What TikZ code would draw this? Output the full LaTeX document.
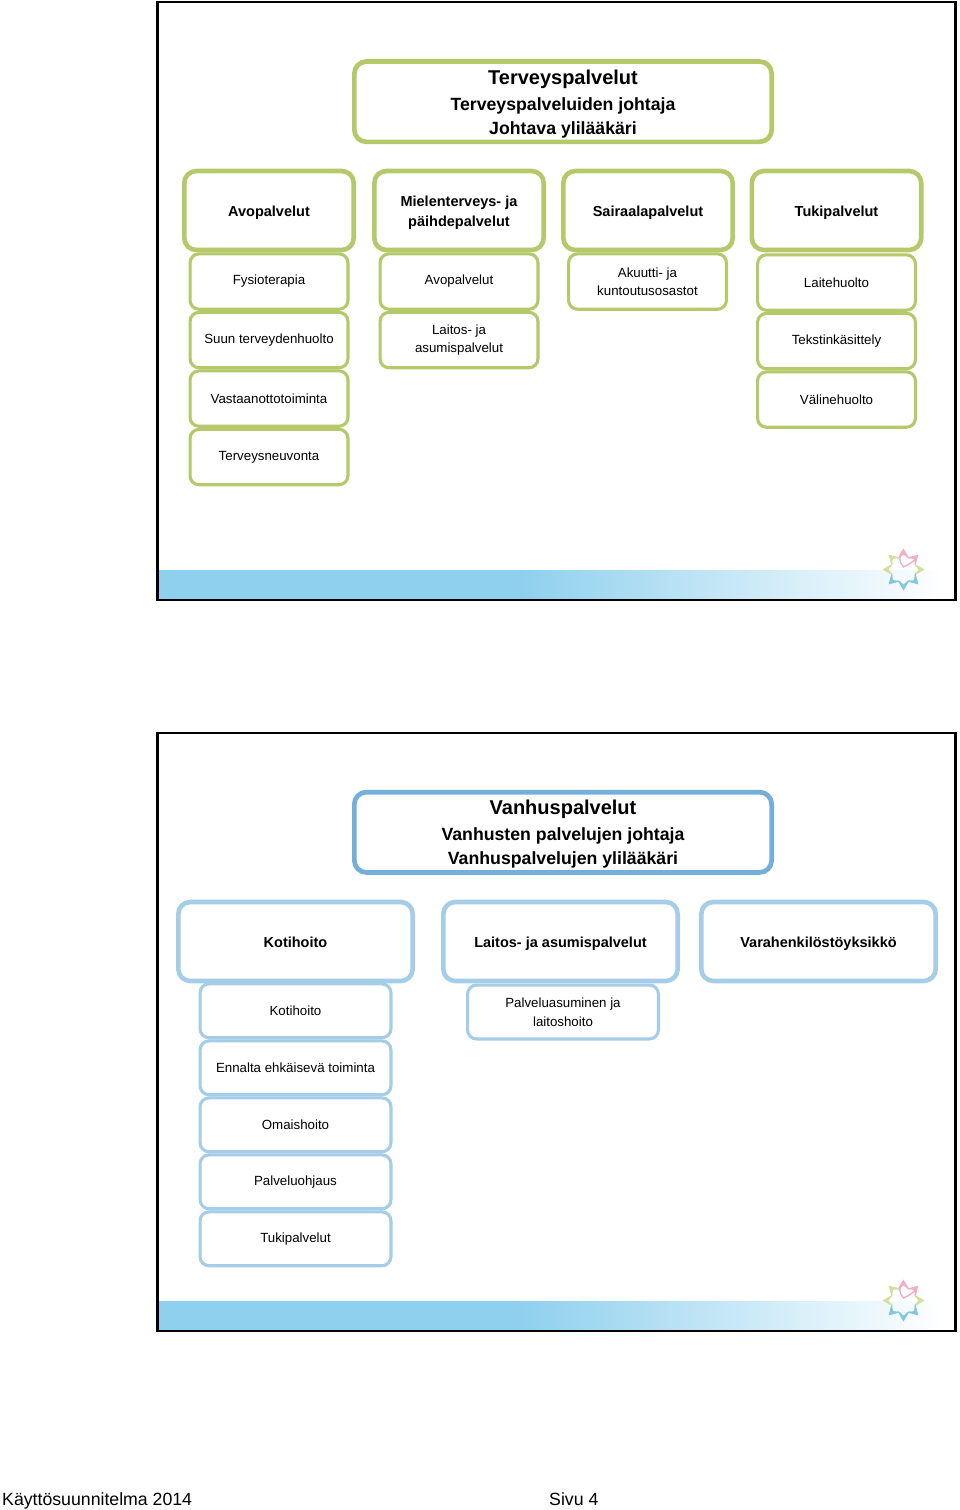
\documentclass[tikz,border=0pt]{standalone}
\usepackage{fontspec}
\setmainfont{Liberation Sans}
\usetikzlibrary{positioning}
\definecolor{greenline}{HTML}{B5C96A}
\definecolor{blueline}{HTML}{74AEDA}
\definecolor{paleblue}{HTML}{A5CDE8}
\definecolor{bandblue}{HTML}{8FD0EE}
\definecolor{petalpink}{HTML}{EFB0C6}
\definecolor{petalyellow}{HTML}{D5DF9C}
\definecolor{petalblue}{HTML}{84C6DE}

\begin{document}
\begin{tikzpicture}[
  x=1pt, y=-1pt,
  node distance=0pt,
  topbox/.style={rectangle, draw=#1, line width=4.7pt, rounded corners=12pt, fill=white,
              minimum width=417.3pt, minimum height=80.3pt, text height=65pt, text depth=0pt,
              font=\fontsize{17.7}{24}\selectfont\bfseries, align=center},
  headbox/.style={rectangle, draw=#1, line width=4.6pt, rounded corners=12pt, fill=white,
              minimum width=169.4pt, minimum height=79pt, text height=11pt, text depth=0pt,
              font=\fontsize{14.5}{20}\selectfont\bfseries, align=center},
  subbox/.style={rectangle, draw=#1, line width=3.1pt, rounded corners=9pt, fill=white,
              minimum width=157.9pt, minimum height=55.4pt,
              font=\fontsize{13.3}{18.5}\selectfont, align=center},
  wide/.style={minimum width=234.4pt},
  slim/.style={minimum width=190.9pt, minimum height=53.9pt},
  frame/.style={draw=black, line width=2.5pt},
  foot/.style={font=\fontsize{17.7}{20}\selectfont, inner sep=0pt, anchor=base west},
  petal/.style={fill=#1, draw=none}
]
\useasboundingbox (0,0) rectangle (960,1510);

% Slide frames and bands
\foreach \y in {0,731}{
  \fill[bandblue] (158,570+\y) rectangle (520,599+\y);
  \shade[left color=bandblue, right color=white] (520,570+\y) rectangle (945,599+\y);
  \draw[frame] (157.5,2+\y) rectangle (955.5,600+\y);
  % Flower
  \foreach \a/\c in {90/petalpink, 45/petalpink, 0/petalyellow, 315/petalblue, 270/petalblue, 225/petalblue, 180/petalyellow, 135/petalyellow}
    \fill[petal=\c, shift={(903.5,569.5+\y)}, rotate=\a]
      (21,0) -- (10,6.5) -- (15,0) -- (10,-6.5) -- cycle;
  \draw[petalpink, line width=1.4pt] (903.5,550+\y) .. controls (898,556+\y) and (899,562+\y) .. (903.5,567+\y)
    .. controls (910,564+\y) and (915,561+\y) .. (917,556+\y);
}

% Upper slide
\node[topbox=greenline] (terv) at (563,101.7) {{\fontsize{20}{24}\selectfont Terveyspalvelut}\\[2pt]Terveyspalveluiden johtaja\\Johtava ylilääkäri};

\node[headbox=greenline] (avo)  at (269,210.5) {Avopalvelut};
\node[headbox=greenline, text height=31pt] (miel) at (459,210.5) {Mielenterveys- ja\\päihdepalvelut};
\node[headbox=greenline] (sair) at (648,210.5) {Sairaalapalvelut};
\node[headbox=greenline] (tuki) at (836.5,210.5) {Tukipalvelut};

\node[subbox=greenline, below=of avo]    (fysio) {Fysioterapia};
\node[subbox=greenline, below=of fysio]  (suun)  {Suun terveydenhuolto};
\node[subbox=greenline, below=of suun]   (vast)  {Vastaanottotoiminta};
\node[subbox=greenline, below=of vast]   (neuv)  {Terveysneuvonta};

\node[subbox=greenline, below=of miel]   (mavo)  {Avopalvelut};
\node[subbox=greenline, below=of mavo]   (mlait) {Laitos- ja\\asumispalvelut};

\node[subbox=greenline, below=of sair, xshift=-0.5pt] (akuu) {Akuutti- ja\\kuntoutusosastot};

\node[subbox=greenline, below=of tuki, yshift=-1pt] (lait) {Laitehuolto};
\node[subbox=greenline, below=of lait]   (teks)  {Tekstinkäsittely};
\node[subbox=greenline, below=of teks]   (vali)  {Välinehuolto};

% Lower slide
\node[topbox=blueline] (vanh) at (563,832.3) {{\fontsize{20}{24}\selectfont Vanhuspalvelut}\\[2pt]Vanhusten palvelujen johtaja\\Vanhuspalvelujen ylilääkäri};

\node[headbox=paleblue, wide] (koti) at (295.5,941.5) {Kotihoito};
\node[headbox=paleblue, wide] (lapa) at (560.5,941.5) {Laitos- ja asumispalvelut};
\node[headbox=paleblue, wide] (vara) at (818.5,941.5) {Varahenkilöstöyksikkö};

\node[subbox=paleblue, slim, below=of koti, yshift=1pt] (khoito) {Kotihoito};
\node[subbox=paleblue, slim, below=of khoito] (ennal) {Ennalta ehkäisevä toiminta};
\node[subbox=paleblue, slim, below=of ennal]  (omai)  {Omaishoito};
\node[subbox=paleblue, slim, below=of omai]   (pohj)  {Palveluohjaus};
\node[subbox=paleblue, slim, below=of pohj]   (vtuki) {Tukipalvelut};

\node[subbox=paleblue, slim] (pasu) at (563,1012) {Palveluasuminen ja\\laitoshoito};

% Footer
\node[foot] (plan) at (2,1505) {Käyttösuunnitelma 2014};
\node[foot] (sivu) at (549,1505) {Sivu 4};

\end{tikzpicture}
\end{document}
